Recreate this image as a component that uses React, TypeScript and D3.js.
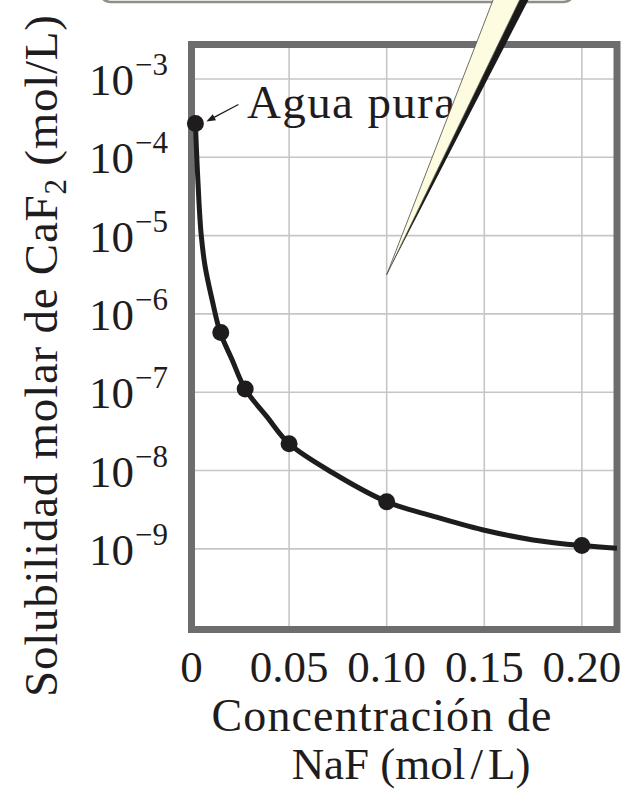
import React from 'react';
import * as d3 from 'd3';

// data points (NaF mol/L vs CaF2 solubility mol/L)
const concentrations = [0.002, 0.015, 0.0275, 0.05, 0.10, 0.20];
const solubilities = [2.7e-4, 5.8e-7, 1.1e-7, 2.2e-8, 4.0e-9, 1.1e-9];

// points along the drawn curve
const curveX = [0.002, 0.0029, 0.0039, 0.005, 0.007, 0.0106, 0.0147, 0.0208, 0.0275, 0.0388, 0.05, 0.0725, 0.10, 0.124, 0.149, 0.175, 0.20, 0.218];
const curveY = [2.7e-4, 7.9e-5, 2.5e-5, 1.0e-5, 4.0e-6, 1.5e-6, 5.8e-7, 2.6e-7, 1.1e-7, 4.8e-8, 2.2e-8, 9.3e-9, 4.0e-9, 2.6e-9, 1.75e-9, 1.3e-9, 1.1e-9, 1.02e-9];

const xTicks = [0, 0.05, 0.10, 0.15, 0.20];
const xTickLabels = ['0', '0.05', '0.10', '0.15', '0.20'];
const yExponents = [-3, -4, -5, -6, -7, -8, -9];

const xDomain = [0, 0.218];
const yDomain = [Math.pow(10, -10.03), Math.pow(10, -2.56)];

const annotation = 'Agua pura';
const xTitle = ['Concentración de', 'NaF (mol', '/', 'L)'];

const W = 623;
const H = 791;
const font = '"Liberation Serif", "Times New Roman", serif';
const ink = '#1f1c1d';

export default function App() {
    const x = d3.scaleLinear().domain(xDomain).range([191.5, 617]);
    const y = d3.scaleLog().domain(yDomain).range([629.5, 44.5]);

    const line = d3.line<number>()
        .x((d, i) => x(curveX[i]))
        .y((d, i) => y(curveY[i]))
        .curve(d3.curveCatmullRom.alpha(0.5));

    const left = x.range()[0], right = x.range()[1];
    const top = y.range()[1], bottom = y.range()[0];

    // speech bubble tail tip sits in data space
    const tipX = x(0.10), tipY = y(Math.pow(10, -5.5));

    // annotation arrow towards the first point
    const px = x(concentrations[0]), py = y(solubilities[0]);
    const ax2 = px + 11, ay2 = py - 2;
    const ax1 = px + 43, ay1 = py - 19;
    const ang = Math.atan2(ay2 - ay1, ax2 - ax1);
    const hl = 9, hw = 3.5;
    const head = [
        [ax2, ay2],
        [ax2 - hl * Math.cos(ang) + hw * Math.sin(ang), ay2 - hl * Math.sin(ang) - hw * Math.cos(ang)],
        [ax2 - hl * Math.cos(ang) - hw * Math.sin(ang), ay2 - hl * Math.sin(ang) + hw * Math.cos(ang)],
    ].map(p => p.join(',')).join(' ');

    return (
        <svg width={W} height={H} style={{ position: 'absolute', left: 0, top: 0, background: '#fff' }}>
            <defs>
                <clipPath id="plotclip">
                    <rect x={left} y={top} width={right - left} height={bottom - top} />
                </clipPath>
            </defs>

            {/* bottom of the speech bubble above the chart */}
            <rect x={99} y={-60} width={476} height={62} rx={12} fill="#fff" stroke="#8f8f86" strokeWidth={2.5} />

            {/* grid */}
            <g stroke="#c6c6c6" strokeWidth={1.6}>
                {xTicks.filter(t => t > 0).map(t => (
                    <line key={'gx' + t} x1={x(t)} x2={x(t)} y1={top} y2={bottom} />
                ))}
                {yExponents.map(e => (
                    <line key={'gy' + e} x1={left} x2={right} y1={y(Math.pow(10, e))} y2={y(Math.pow(10, e))} />
                ))}
            </g>

            {/* frame */}
            <rect x={left} y={top} width={right - left} height={bottom - top} fill="none" stroke="#6d6d6d" strokeWidth={7} />

            {/* curve + points */}
            <path d={line(curveX) || ''} fill="none" stroke={ink} strokeWidth={5} clipPath="url(#plotclip)" />
            {concentrations.map((c, i) => (
                <circle key={'p' + i} cx={x(c)} cy={y(solubilities[i])} r={8.5} fill={ink} />
            ))}

            {/* annotation */}
            <line x1={ax1} y1={ay1} x2={ax2 - 6 * Math.cos(ang)} y2={ay2 - 6 * Math.sin(ang)} stroke={ink} strokeWidth={1.3} />
            <polygon points={head} fill={ink} />
            <text x={247} y={118} fontFamily={font} fontSize={47} fill={ink} textLength={208} lengthAdjust="spacing">{annotation}</text>

            {/* speech bubble tail */}
            <polygon points={`522,-5 531,-5 ${tipX},${tipY}`} fill="#1a1a1a" />
            <polygon points={`495,-5 522,-5 ${tipX},${tipY}`} fill="#fdfbe0" stroke="#4a4a44" strokeWidth={0.8} />

            {/* y tick labels */}
            {yExponents.map(e => (
                <text key={'yl' + e} x={89} y={y(Math.pow(10, e)) + 16} fontFamily={font} fill={ink}>
                    <tspan fontSize={45}>10</tspan>
                    <tspan fontSize={31} dx={1} dy={-20}>{'\u2212' + Math.abs(e)}</tspan>
                </text>
            ))}

            {/* x tick labels */}
            {xTicks.map((t, i) => (
                <text key={'xl' + t} x={x(t)} y={682} textAnchor="middle" fontFamily={font} fontSize={45} fill={ink}>
                    {xTickLabels[i]}
                </text>
            ))}

            {/* axis titles */}
            <text x={381.5} y={731} textAnchor="middle" fontFamily={font} fontSize={46} fill={ink} textLength={340} lengthAdjust="spacing">{xTitle[0]}</text>
            <text x={411} y={779} textAnchor="middle" fontFamily={font} fontSize={45} fill={ink}>
                {xTitle[1]}<tspan dx={5}>{xTitle[2]}</tspan><tspan dx={5}>{xTitle[3]}</tspan>
            </text>

            <text transform="translate(57,356) rotate(-90)" textAnchor="middle" fontFamily={font} fontSize={47} fill={ink} textLength={682} lengthAdjust="spacing">
                Solubilidad molar de CaF<tspan fontSize={31} dy={9}>2</tspan><tspan dy={-9}> (mol/L)</tspan>
            </text>
        </svg>
    );
}
